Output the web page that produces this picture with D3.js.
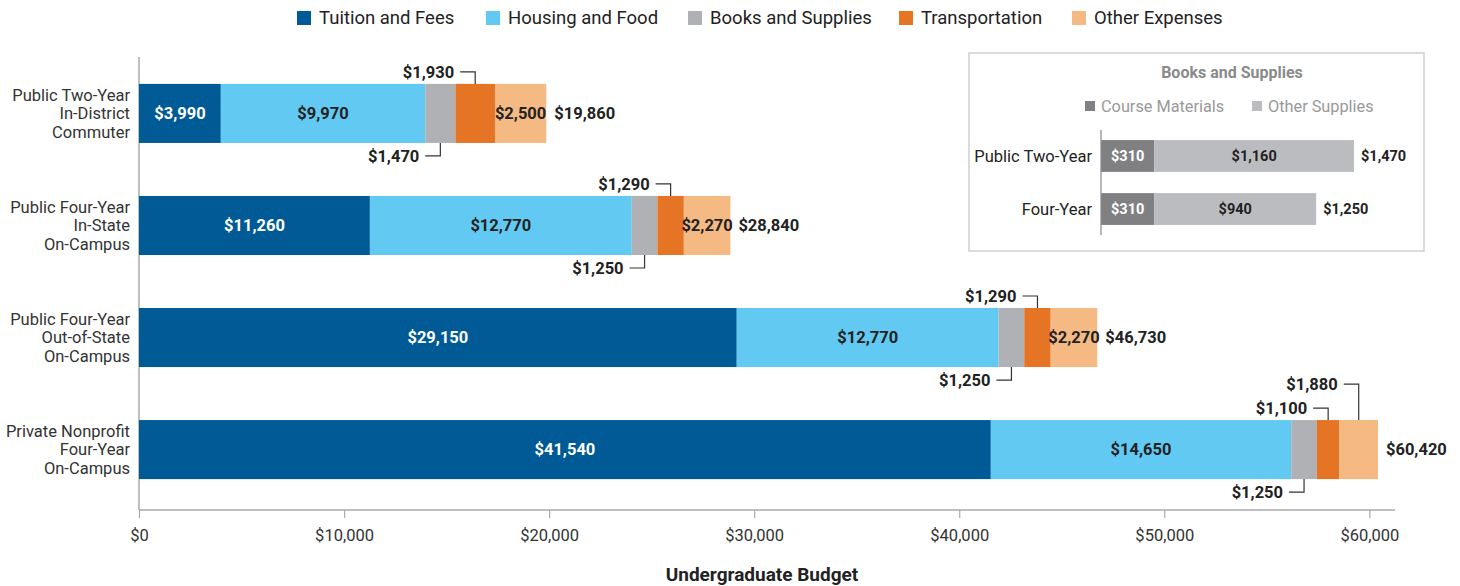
<!DOCTYPE html>
<html lang="en">
<head>
<meta charset="UTF-8">
<title>Undergraduate Budget</title>
<script src="https://d3js.org/d3.v7.min.js"></script>
<style>
  body { margin: 0; background: #fff; }
  svg text { font-family: Roboto, "Liberation Sans", sans-serif; }
</style>
</head>
<body>
<div id="chart"></div>
<script>
// Data
const categories = [
  ["Public Two-Year", "In-District", "Commuter"],
  ["Public Four-Year", "In-State", "On-Campus"],
  ["Public Four-Year", "Out-of-State", "On-Campus"],
  ["Private Nonprofit", "Four-Year", "On-Campus"]
];
const seriesNames = ["Tuition and Fees", "Housing and Food", "Books and Supplies", "Transportation", "Other Expenses"];
const tuition = [3990, 11260, 29150, 41540];
const housing = [9970, 12770, 12770, 14650];
const books = [1470, 1250, 1250, 1250];
const transport = [1930, 1290, 1290, 1100];
const other = [2500, 2270, 2270, 1880];
const totals = [19860, 28840, 46730, 60420];
const xTicks = [0, 10000, 20000, 30000, 40000, 50000, 60000];

const insetCats = ["Public Two-Year", "Four-Year"];
const insetSeries = ["Course Materials", "Other Supplies"];
const courseMaterials = [310, 310];
const otherSupplies = [1160, 940];
const insetTotals = [1470, 1250];

const colors = ["#005a96", "#62caf2", "#b0b1b5", "#e57525", "#f5b984"];
const insetColors = ["#808083", "#bbbcbf"];

const W = 1460, H = 586;
const svg = d3.select("#chart").append("svg").attr("width", W).attr("height", H);

const fmt = d => "$" + d3.format(",")(d);

// Scales
const x = d3.scaleLinear().domain([0, 61250]).range([139, 1395]);
const y = d3.scaleBand().domain(d3.range(categories.length))
  .range([57, 506]).paddingInner(0.473).paddingOuter(0.24);

// Stack
const rows = categories.map((c, i) => ({
  i, values: [tuition[i], housing[i], books[i], transport[i], other[i]]
}));
const stackData = rows.map(r => {
  let acc = 0;
  return r.values.map((v, k) => { const s = acc; acc += v; return {row: r.i, k, v, x0: s, x1: acc}; });
});

// Axes
const axisY = 510;
const xAxis = svg.append("g").attr("transform", `translate(0,${axisY})`)
  .call(d3.axisBottom(x).tickValues(xTicks).tickFormat(fmt).tickSize(8).tickPadding(11));
xAxis.select(".domain").attr("stroke", "#aaa").attr("stroke-width", 1.5).attr("d", `M${x(0)},0H${x.range()[1]}`);
xAxis.selectAll(".tick line").attr("stroke", "#aaa").attr("stroke-width", 1.2);
xAxis.selectAll(".tick text").attr("fill", "#333").style("font-size", "16.5px");

svg.append("line").attr("x1", x(0)).attr("x2", x(0)).attr("y1", 57).attr("y2", axisY)
  .attr("stroke", "#aaa").attr("stroke-width", 1.5);

svg.append("text").attr("x", 762).attr("y", 574).attr("dy", "0.35em").attr("text-anchor", "middle")
  .style("font-size", "19px").style("font-weight", "bold").attr("fill", "#222")
  .text("Undergraduate Budget");

// Category labels
const catG = svg.append("g");
categories.forEach((lines, i) => {
  const cy = y(i) + y.bandwidth() / 2;
  const t = catG.append("text").attr("text-anchor", "end").attr("fill", "#333")
    .style("font-size", "16.5px");
  lines.forEach((l, j) => {
    t.append("tspan").attr("x", 130).attr("y", cy + (j - 1) * 18.5).attr("dy", "0.35em").text(l);
  });
});

// Bars
const barG = svg.append("g");
stackData.forEach(segs => {
  barG.selectAll(null).data(segs).enter().append("rect")
    .attr("x", d => x(d.x0)).attr("width", d => x(d.x1) - x(d.x0))
    .attr("y", d => y(d.row)).attr("height", y.bandwidth())
    .attr("fill", d => colors[d.k]);
});

// Labels & callouts
const labG = svg.append("g").style("font-weight", "bold").style("font-size", "16.5px");
function callout(d, side, level) {
  const cx = (x(d.x0) + x(d.x1)) / 2;
  const top = y(d.row), bot = top + y.bandwidth();
  const ly = side === "above" ? top - (level === 1 ? 12 : 36) : bot + 13;
  const edge = side === "above" ? top : bot;
  labG.append("path")
    .attr("d", `M${cx},${edge}V${ly}H${cx - 15}`)
    .attr("fill", "none").attr("stroke", "#333").attr("stroke-width", 1.2);
  labG.append("text").attr("x", cx - 21).attr("y", ly).attr("dy", "0.35em")
    .attr("text-anchor", "end").attr("fill", "#222").text(fmt(d.v));
}
stackData.forEach((segs, i) => {
  segs.forEach(d => {
    const w = x(d.x1) - x(d.x0);
    const cy = y(d.row) + y.bandwidth() / 2;
    if (d.k === 2) callout(d, "below", 1);
    else if (d.k === 3) callout(d, "above", 1);
    else if (w < 44) callout(d, "above", 2);
    else {
      labG.append("text").attr("x", (x(d.x0) + x(d.x1)) / 2).attr("y", cy).attr("dy", "0.35em")
        .attr("text-anchor", "middle").attr("fill", d.k === 0 ? "#fff" : "#222").text(fmt(d.v));
    }
  });
  labG.append("text").attr("x", x(totals[i]) + 8).attr("y", y(i) + y.bandwidth() / 2)
    .attr("dy", "0.35em").attr("fill", "#222").text(fmt(totals[i]));
});

// Legend
const legendX = [297, 486, 688, 899, 1072];
const lg = svg.append("g");
seriesNames.forEach((n, k) => {
  lg.append("rect").attr("x", legendX[k]).attr("y", 11).attr("width", 14).attr("height", 14).attr("fill", colors[k]);
  lg.append("text").attr("x", legendX[k] + 22).attr("y", 18).attr("dy", "0.35em")
    .style("font-size", "18.5px").attr("fill", "#222").text(n);
});

// Inset
const inset = svg.append("g");
inset.append("rect").attr("x", 969).attr("y", 53).attr("width", 455).attr("height", 198)
  .attr("fill", "#fff").attr("stroke", "#d0d0d0").attr("stroke-width", 1.5);
inset.append("text").attr("x", 1232).attr("y", 72).attr("dy", "0.35em").attr("text-anchor", "middle")
  .style("font-size", "16px").style("font-weight", "bold").attr("fill", "#8a8a8a").text("Books and Supplies");
const insetLegX = [1085, 1252];
insetSeries.forEach((n, k) => {
  inset.append("rect").attr("x", insetLegX[k]).attr("y", 101).attr("width", 10).attr("height", 10).attr("fill", insetColors[k]);
  inset.append("text").attr("x", insetLegX[k] + 16).attr("y", 106).attr("dy", "0.35em")
    .style("font-size", "16.3px").attr("fill", "#999").text(n);
});
const ix = d3.scaleLinear().domain([0, 1470]).range([1101, 1354]);
const iy = d3.scaleBand().domain(d3.range(insetCats.length)).range([130, 235]).paddingInner(0.4).paddingOuter(0.19);
insetCats.forEach((c, i) => {
  const segs = [
    {k: 0, x0: 0, x1: courseMaterials[i], v: courseMaterials[i]},
    {k: 1, x0: courseMaterials[i], x1: courseMaterials[i] + otherSupplies[i], v: otherSupplies[i]}
  ];
  const cy = iy(i) + iy.bandwidth() / 2;
  segs.forEach(s => {
    inset.append("rect").attr("x", ix(s.x0)).attr("width", ix(s.x1) - ix(s.x0))
      .attr("y", iy(i)).attr("height", iy.bandwidth()).attr("fill", insetColors[s.k]);
    inset.append("text").attr("x", (ix(s.x0) + ix(s.x1)) / 2).attr("y", cy).attr("dy", "0.35em")
      .attr("text-anchor", "middle").style("font-size", "14.5px").style("font-weight", "bold")
      .attr("fill", s.k === 0 ? "#fff" : "#222").text(fmt(s.v));
  });
  inset.append("text").attr("x", ix(insetTotals[i]) + 7).attr("y", cy).attr("dy", "0.35em")
    .style("font-size", "14.5px").style("font-weight", "bold").attr("fill", "#222").text(fmt(insetTotals[i]));
  inset.append("text").attr("x", 1092).attr("y", cy).attr("dy", "0.35em").attr("text-anchor", "end")
    .style("font-size", "16.5px").attr("fill", "#222").text(c);
});
inset.append("line").attr("x1", 1101).attr("x2", 1101).attr("y1", 130).attr("y2", 235)
  .attr("stroke", "#888").attr("stroke-width", 1.2);
</script>
</body>
</html>
